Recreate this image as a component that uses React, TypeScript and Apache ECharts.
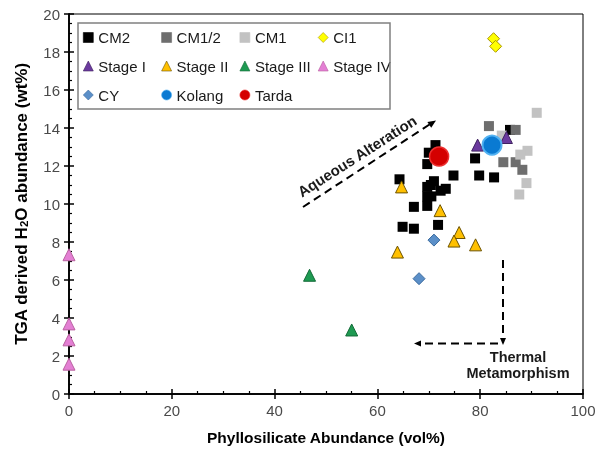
import React, { useEffect, useRef } from 'react';
import * as echarts from 'echarts';

// ---- data (x = phyllosilicate vol%, y = TGA H2O wt%) ----
const cm2: number[][] = [
  [64.3, 11.3], [69.7, 12.1], [71.3, 13.1], [70.0, 12.7], [74.8, 11.5], [79.8, 11.5],
  [82.7, 11.4], [79.0, 12.4], [71.0, 11.2], [70.4, 11.0], [69.7, 10.9], [73.3, 10.8],
  [72.3, 10.7], [69.7, 10.4], [70.5, 10.4], [67.1, 9.85], [69.7, 9.9], [64.9, 8.8],
  [67.1, 8.7], [71.8, 8.9], [85.8, 13.9],
];
const cm12: number[][] = [[81.7, 14.1], [86.9, 13.9], [84.5, 12.2], [86.9, 12.2], [88.2, 11.8]];
const cm1: number[][] = [[91.0, 14.8], [84.2, 13.6], [89.2, 12.8], [87.8, 12.6], [89.0, 11.1], [87.6, 10.5]];
const ci1: number[][] = [[82.6, 18.7], [83.0, 18.3]];
const stage1: number[][] = [[79.5, 13.1], [85.1, 13.5]];
const stage2: number[][] = [[64.7, 10.9], [72.2, 9.65], [75.9, 8.5], [74.9, 8.05], [79.1, 7.85], [63.9, 7.47]];
const stage3: number[][] = [[46.8, 6.25], [55.0, 3.37]];
const stage4: number[][] = [[0, 7.33], [0, 3.69], [0, 2.85], [0, 1.57]];
const cy: number[][] = [[71.0, 8.1], [68.1, 6.07]];
const kolang: number[][] = [[82.3, 13.1]];
const tarda: number[][] = [[72.0, 12.5]];

const legendRow1 = ['CM2', 'CM1/2', 'CM1', 'CI1'];
const legendRow2 = ['Stage I', 'Stage II', 'Stage III', 'Stage IV'];
const legendRow3 = ['CY', 'Kolang', 'Tarda'];

const xMin = 0, xMax = 100, xStep = 20;
const yMin = 0, yMax = 20, yStep = 2;

const FONT = 'Liberation Sans, Arial, Helvetica, sans-serif';

function arrowHead(tipX: number, tipY: number, fromX: number, fromY: number, len = 8, half = 3.5) {
  const dx = tipX - fromX, dy = tipY - fromY;
  const d = Math.sqrt(dx * dx + dy * dy);
  const ux = dx / d, uy = dy / d;
  const bx = tipX - ux * len, by = tipY - uy * len;
  const px = -uy, py = ux;
  return {
    type: 'polygon',
    shape: { points: [[tipX, tipY], [bx + px * half, by + py * half], [bx - px * half, by - py * half]] },
    style: { fill: '#000' },
    z: 50,
  };
}

export default function App() {
  const ref = useRef<HTMLDivElement>(null);
  useEffect(() => {
    if (!ref.current) return;
    const chart = echarts.init(ref.current, undefined, { renderer: 'svg' });

    const mk = (name: string, data: number[][], symbol: string, size: number, color: string, border?: string, bw = 1) => ({
      name,
      type: 'scatter',
      data,
      symbol,
      symbolSize: size,
      itemStyle: { color, borderColor: border || color, borderWidth: border ? bw : 0, opacity: 1 },
      emphasis: { disabled: true },
    });

    const legendCommon = {
      orient: 'horizontal',
      left: 83,
      itemWidth: 10,
      itemHeight: 10,
      itemGap: 5,
      padding: 0,
      itemStyle: { borderWidth: 0.6 },
      textStyle: { fontSize: 15, color: '#1a1a1a', width: 58, lineHeight: 16, fontFamily: FONT },
      selectedMode: false,
    };

    const baseAxisLine = { show: true, lineStyle: { color: '#000', width: 1.5 } };

    const option: any = {
      animation: false,
      textStyle: { fontFamily: FONT },
      grid: { left: 69, right: 17, top: 14, bottom: 54, show: true, borderColor: '#000', borderWidth: 1 },
      legend: [
        { ...legendCommon, top: 29.5, data: legendRow1 },
        { ...legendCommon, top: 58, data: legendRow2 },
        { ...legendCommon, top: 87, data: legendRow3 },
      ],
      xAxis: [
        {
          type: 'value', min: xMin, max: xMax, interval: xStep, position: 'bottom',
          axisLine: baseAxisLine,
          axisTick: { show: true, inside: false, length: 5, lineStyle: { color: '#000', width: 1.5 } },
          axisLabel: { fontSize: 15, color: '#4a4a4a', margin: 9 },
          splitLine: { show: false },
          name: 'Phyllosilicate Abundance (vol%)', nameLocation: 'middle', nameGap: 35,
          nameTextStyle: { fontSize: 15.5, fontWeight: 'bold', color: '#000' },
        },
        {
          type: 'value', min: xMin, max: xMax, interval: xStep, position: 'bottom',
          axisLine: baseAxisLine,
          axisTick: { show: true, inside: true, length: 5, lineStyle: { color: '#000', width: 1.5 } },
          minorTick: { show: true, splitNumber: 4, length: 3, lineStyle: { color: '#000', width: 1.2 } },
          axisLabel: { show: false },
          splitLine: { show: false },
        },
      ],
      yAxis: [
        {
          type: 'value', min: yMin, max: yMax, interval: yStep, position: 'left',
          axisLine: baseAxisLine,
          axisTick: { show: true, inside: false, length: 5, lineStyle: { color: '#000', width: 1.5 } },
          axisLabel: { fontSize: 15, color: '#4a4a4a', margin: 9 },
          splitLine: { show: false },
          name: 'TGA derived H{sub|2}O abundance (wt%)', nameLocation: 'middle', nameGap: 39,
          nameTextStyle: {
            fontSize: 17, fontWeight: 'bold', color: '#000',
            rich: { sub: { fontSize: 11.5, fontWeight: 'bold', color: '#000', verticalAlign: 'bottom', padding: [6, 0, 0, 0] } },
          },
        },
        {
          type: 'value', min: yMin, max: yMax, interval: yStep, position: 'left',
          axisLine: baseAxisLine,
          axisTick: { show: true, inside: true, length: 5, lineStyle: { color: '#000', width: 1.5 } },
          minorTick: { show: true, splitNumber: 4, length: 3, lineStyle: { color: '#000', width: 1.2 } },
          axisLabel: { show: false },
          splitLine: { show: false },
        },
      ],
      series: [
        mk('CM2', cm2, 'rect', 10, '#000000'),
        mk('CM1/2', cm12, 'rect', 10, '#6e6e6e'),
        mk('CM1', cm1, 'rect', 10, '#c2c2c2'),
        mk('CI1', ci1, 'diamond', 12, '#ffff00', '#a89400'),
        mk('Stage I', stage1, 'triangle', 12, '#6b3a9e', '#3f2260'),
        mk('Stage II', stage2, 'triangle', 12, '#ffc000', '#6b5200'),
        mk('Stage III', stage3, 'triangle', 12, '#1e9a52', '#136a37'),
        mk('Stage IV', stage4, 'triangle', 12, '#e47fd4', '#b8609f'),
        mk('CY', cy, 'diamond', 12, '#5b8fc8', '#3a6a9e'),
        mk('Kolang', kolang, 'circle', 19, '#0a7ad2', '#52b2f2', 2),
        mk('Tarda', tarda, 'circle', 19, '#d40000', '#ec3030', 1.5),
      ],
      graphic: [
        {
          type: 'rect', shape: { x: 78, y: 23, width: 312, height: 86 },
          style: { fill: 'none', stroke: '#808080', lineWidth: 1.5 }, z: 40,
        },
        // Aqueous alteration arrow
        {
          type: 'line', shape: { x1: 303, y1: 207, x2: 431, y2: 123.5 },
          style: { stroke: '#000', lineWidth: 2, lineDash: [8, 5] }, z: 50,
        },
        arrowHead(436, 120.5, 303, 207),
        {
          type: 'text', x: 357, y: 156, rotation: 0.57,
          style: { text: 'Aqueous Alteration', fontSize: 15, fontWeight: 'bold', fill: '#1a1a1a', align: 'center', verticalAlign: 'middle', fontFamily: FONT },
          z: 50,
        },
        // Thermal metamorphism arrows
        {
          type: 'line', shape: { x1: 503, y1: 260, x2: 503, y2: 338 },
          style: { stroke: '#000', lineWidth: 2, lineDash: [8, 5] }, z: 50,
        },
        arrowHead(503, 345, 503, 260, 7, 3),
        {
          type: 'line', shape: { x1: 498, y1: 343.5, x2: 421, y2: 343.5 },
          style: { stroke: '#000', lineWidth: 2, lineDash: [8, 5] }, z: 50,
        },
        arrowHead(414, 343.5, 498, 343.5, 7, 3),
        {
          type: 'text', x: 518, y: 357,
          style: { text: 'Thermal', fontSize: 14.5, fontWeight: 'bold', fill: '#1a1a1a', align: 'center', verticalAlign: 'middle', fontFamily: FONT },
          z: 50,
        },
        {
          type: 'text', x: 518, y: 373,
          style: { text: 'Metamorphism', fontSize: 14.5, fontWeight: 'bold', fill: '#1a1a1a', align: 'center', verticalAlign: 'middle', fontFamily: FONT },
          z: 50,
        },
      ],
    };

    chart.setOption(option);
    return () => chart.dispose();
  }, []);

  return <div ref={ref} style={{ position: 'fixed', left: 0, top: 0, width: 600, height: 450 }} />;
}
